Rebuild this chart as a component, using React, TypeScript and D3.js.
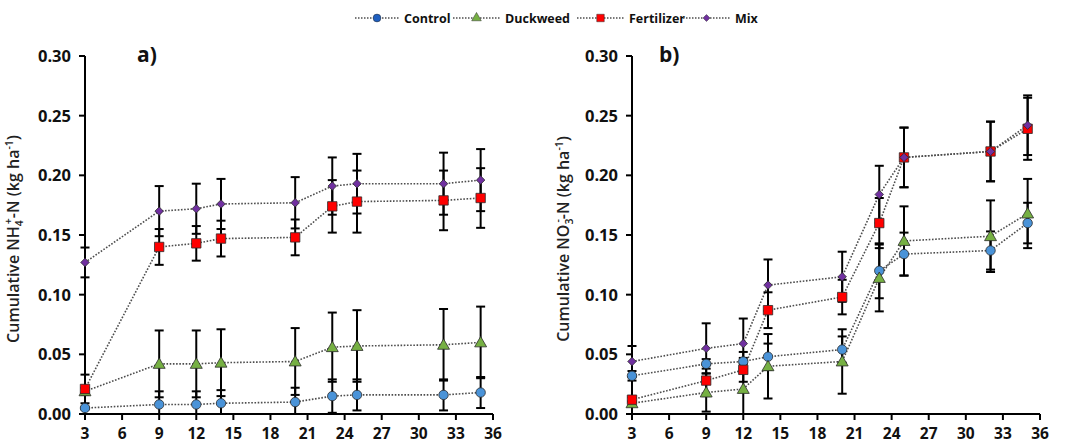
import React from 'react'
import * as d3 from 'd3'

// Data
const days = [3, 9, 12, 14, 20, 23, 25, 32, 35]
const seriesNames = ['Control', 'Duckweed', 'Fertilizer', 'Mix']
const xTicks = [3, 6, 9, 12, 15, 18, 21, 24, 27, 30, 33, 36]
const yTicks = [0, 0.05, 0.1, 0.15, 0.2, 0.25, 0.3]

// a) NH4+-N
const controlNH4 = [0.005, 0.008, 0.008, 0.009, 0.01, 0.015, 0.016, 0.016, 0.018]
const controlNH4Sd = [0.001, 0.011, 0.011, 0.011, 0.012, 0.014, 0.013, 0.013, 0.013]
const duckweedNH4 = [0.019, 0.042, 0.042, 0.043, 0.044, 0.056, 0.057, 0.058, 0.06]
const duckweedNH4Sd = [0.003, 0.028, 0.028, 0.028, 0.028, 0.029, 0.03, 0.03, 0.03]
const fertilizerNH4 = [0.021, 0.14, 0.143, 0.147, 0.148, 0.174, 0.178, 0.179, 0.181]
const fertilizerNH4Sd = [0.012, 0.015, 0.0145, 0.015, 0.015, 0.022, 0.026, 0.025, 0.025]
const mixNH4 = [0.127, 0.17, 0.172, 0.176, 0.177, 0.191, 0.193, 0.193, 0.196]
const mixNH4Sd = [0.0125, 0.021, 0.021, 0.021, 0.0215, 0.024, 0.025, 0.026, 0.026]

// b) NO3--N
const controlNO3 = [0.032, 0.042, 0.044, 0.048, 0.054, 0.12, 0.134, 0.137, 0.16]
const controlNO3Sd = [0.004, 0.004, 0.008, 0.011, 0.011, 0.023, 0.018, 0.016, 0.017]
const duckweedNO3 = [0.009, 0.018, 0.021, 0.04, 0.044, 0.114, 0.145, 0.149, 0.168]
const duckweedNO3Sd = [0.002, 0.016, 0.021, 0.027, 0.027, 0.028, 0.029, 0.03, 0.029]
const fertilizerNO3 = [0.012, 0.028, 0.037, 0.087, 0.098, 0.16, 0.215, 0.22, 0.239]
const fertilizerNO3Sd = [0.002, 0.013, 0.01, 0.015, 0.0145, 0.021, 0.025, 0.025, 0.026]
const mixNO3 = [0.044, 0.055, 0.059, 0.108, 0.115, 0.184, 0.215, 0.22, 0.242]
const mixNO3Sd = [0.013, 0.021, 0.021, 0.0215, 0.021, 0.024, 0.025, 0.025, 0.025]

// Styles
const W = 1067
const H = 445
const FONT = '"Open Sans", "DejaVu Sans", sans-serif'
const colors = ['#4a93d8', '#76b043', '#ff0000', '#7030a0']
const symbols = [d3.symbolCircle, d3.symbolTriangle, d3.symbolSquare, d3.symbolDiamond2]
const sizes = [70, 62, 88, 46]
const legendSizes = [48, 40, 56, 30]

const panels = [
  {
    label: 'a)',
    means: [controlNH4, duckweedNH4, fertilizerNH4, mixNH4],
    sds: [controlNH4Sd, duckweedNH4Sd, fertilizerNH4Sd, mixNH4Sd],
    left: 85,
    labelX: 137,
    titleX: 19,
    ion: ['NH', '4', '+'],
  },
  {
    label: 'b)',
    means: [controlNO3, duckweedNO3, fertilizerNO3, mixNO3],
    sds: [controlNO3Sd, duckweedNO3Sd, fertilizerNO3Sd, mixNO3Sd],
    left: 632,
    labelX: 659,
    titleX: 569,
    ion: ['NO', '3', '-'],
  },
]

const plotW = 408
const top = 56
const bottom = 414

function Panel({ p }) {
  const x = d3.scaleLinear().domain([3, 36]).range([p.left, p.left + plotW])
  const y = d3.scaleLinear().domain([0, 0.3]).range([bottom, top])
  const line = d3
    .line()
    .x((d, i) => x(days[i]))
    .y(d => y(d))

  return (
    <g>
      {/* dotted series lines */}
      {p.means.map((m, s) => (
        <path
          key={'l' + s}
          d={line(m)}
          fill="none"
          stroke="#4d4d4d"
          strokeWidth={1.6}
          strokeDasharray="1.6 1.6"
        />
      ))}
      {/* axes */}
      <line x1={p.left} x2={p.left} y1={top} y2={bottom} stroke="#000" strokeWidth={2} />
      <line x1={p.left} x2={p.left + plotW} y1={bottom} y2={bottom} stroke="#000" strokeWidth={2} />
      {yTicks.map(t => (
        <g key={'y' + t}>
          <line x1={p.left - 6} x2={p.left} y1={y(t)} y2={y(t)} stroke="#000" strokeWidth={2} />
          <text
            x={p.left - 14}
            y={y(t)}
            dy="0.36em"
            textAnchor="end"
            fontFamily={FONT}
            fontWeight="bold"
            fontSize={16.5}
            fill="#111"
          >
            {d3.format('.2f')(t)}
          </text>
        </g>
      ))}
      {xTicks.map(t => (
        <g key={'x' + t}>
          <line x1={x(t)} x2={x(t)} y1={bottom} y2={bottom + 6} stroke="#000" strokeWidth={2} />
          <text
            x={x(t)}
            y={439}
            textAnchor="middle"
            fontFamily={FONT}
            fontWeight="bold"
            fontSize={15.5}
            fill="#111"
          >
            {t}
          </text>
        </g>
      ))}
      {/* error bars */}
      {p.means.map((m, s) =>
        m.map((v, i) => {
          const sd = p.sds[s][i]
          const hi = y(v + sd)
          const lo = y(Math.max(0, v - sd))
          const cx = x(days[i])
          return (
            <g key={'e' + s + '-' + i} stroke="#000" strokeWidth={2}>
              <line x1={cx} x2={cx} y1={hi} y2={lo} />
              <line x1={cx - 4.5} x2={cx + 4.5} y1={hi} y2={hi} />
              {v - sd > 0 && <line x1={cx - 4.5} x2={cx + 4.5} y1={lo} y2={lo} />}
            </g>
          )
        })
      )}
      {/* markers */}
      {p.means.map((m, s) =>
        m.map((v, i) => (
          <path
            key={'m' + s + '-' + i}
            d={d3.symbol(symbols[s], sizes[s])()}
            transform={`translate(${x(days[i])},${y(v) + (s === 1 ? 1 : 0)})`}
            fill={colors[s]}
            stroke="#2b2b2b"
            strokeWidth={0.8}
          />
        ))
      )}
      {/* panel label */}
      <text x={p.labelX} y={62} fontFamily={FONT} fontWeight="bold" fontSize={21} fill="#111">
        {p.label}
      </text>
      {/* y title */}
      <text
        transform={`translate(${p.titleX},${(top + bottom) / 2 + 4}) rotate(-90)`}
        textAnchor="middle"
        fontFamily={FONT}
        fontWeight={600}
        fontSize={16}
        fill="#222"
      >
        {'Cumulative ' + p.ion[0]}
        <tspan fontSize={10.5} dy={4}>{p.ion[1]}</tspan>
        <tspan fontSize={10.5} dy={-11} dx={-4}>{p.ion[2]}</tspan>
        <tspan dy={7}>{'-N (kg ha'}</tspan>
        <tspan fontSize={10.5} dy={-6}>-1</tspan>
        <tspan dy={6}>)</tspan>
      </text>
    </g>
  )
}

const legendStarts = [355, 453, 577, 683]

function Legend() {
  return (
    <g>
      {seriesNames.map((name, s) => {
        const x0 = legendStarts[s]
        const len = s === 0 ? 44 : 47
        return (
          <g key={name}>
            <line
              x1={x0}
              x2={x0 + len}
              y1={18}
              y2={18}
              stroke="#4d4d4d"
              strokeWidth={1.5}
              strokeDasharray="1.5 1.5"
            />
            <path
              d={d3.symbol(symbols[s], legendSizes[s])()}
              transform={`translate(${x0 + len / 2},${18})`}
              fill={s === 0 ? '#1f5fc0' : colors[s]}
              stroke="#2b2b2b"
              strokeWidth={0.5}
            />
            <text
              x={x0 + len + 5}
              y={18}
              dy="0.36em"
              fontFamily={FONT}
              fontWeight="bold"
              fontSize={12.5}
              fill="#111"
            >
              {name}
            </text>
          </g>
        )
      })}
    </g>
  )
}

export default function App() {
  return (
    <svg
      width={W}
      height={H}
      style={{ position: 'absolute', left: 0, top: 0, background: '#fff' }}
    >
      <Legend />
      {panels.map(p => (
        <Panel key={p.label} p={p} />
      ))}
    </svg>
  )
}
